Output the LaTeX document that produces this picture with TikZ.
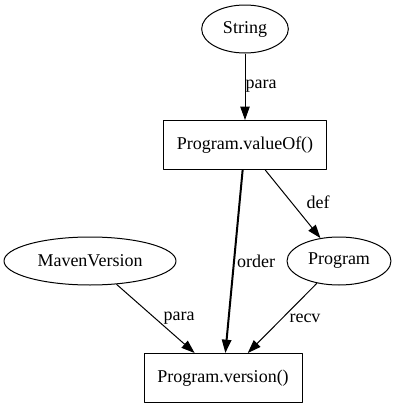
\documentclass[tikz,border=0pt]{standalone}
\usepackage{fontspec}
\newfontfamily\graphfont{Liberation Serif}
\usetikzlibrary{arrows.meta,shapes.geometric}
\tikzset{obj/.style={draw,ellipse,line width=0.75pt,minimum width=#1,minimum height=36pt,inner sep=0pt},
  call/.style={draw,rectangle,line width=0.75pt,minimum width=#1,minimum height=36.75pt,inner sep=0pt},
  dep/.style={->,line width=0.75pt},
  lbl/.style={inner sep=0pt}}

\begin{document}
\begin{tikzpicture}[x=0.75pt,y=-0.75pt,>={Triangle[length=10pt,width=7pt]},line join=round,font=\graphfont\fontsize{13.5}{15}\selectfont]
\useasboundingbox (0,0) rectangle (407,407);
% --- nodes
\node[obj=65pt] (str) at (245,29) {String};
\node[call=122pt] (valueof) at (245,145) {Program.valueOf()};
\node[obj=129pt] (maven) at (90,261) {MavenVersion};
\node[obj=78pt] (prog) at (339,261) {Program};
\node[call=118.5pt] (version) at (223,378) {Program.version()};
% --- edges
\draw[dep] (str) -- (valueof);
\draw[->,line width=1.5pt] (valueof) -- (version);
\draw[dep] (valueof) -- (prog);
\draw[dep] (maven) -- (version);
\draw[dep] (prog) -- (version);
\node[lbl] (l1) at (261,86) {para};
\node[lbl] (l2) at (256,261) {order};
\node[lbl] (l3) at (318,202) {def};
\node[lbl] (l4) at (179,318) {para};
\node[lbl] (l5) at (305,318) {recv};
\end{tikzpicture}
\end{document}
